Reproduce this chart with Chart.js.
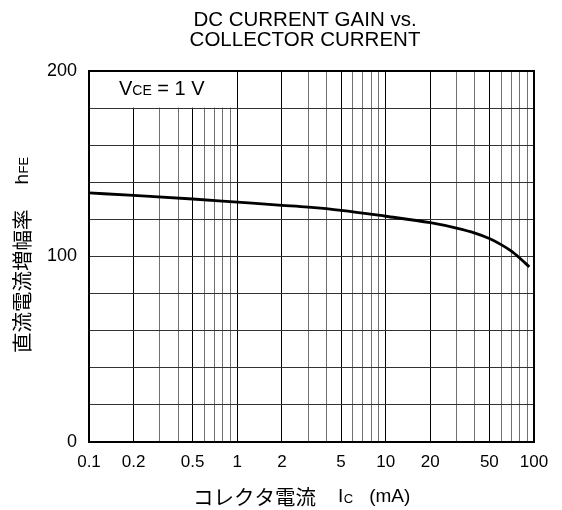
<!DOCTYPE html>
<html><head><meta charset="utf-8">
<script src="https://cdn.jsdelivr.net/npm/chart.js@4/dist/chart.umd.min.js"></script>
<style>html,body{margin:0;padding:0;background:#fff}#wrap{width:562px;height:510px}</style>
</head><body><div id="wrap"><canvas id="c" width="562" height="510"></canvas></div>
<script>
const currentMA = [0.1, 0.2, 0.5, 1, 2, 3, 5, 10, 20, 30, 40, 50, 60, 70, 80, 93];
const hFE       = [134.3, 132.9, 131.0, 129.3, 127.6, 126.6, 124.9, 121.7, 118.2, 115.3, 112.6, 109.7, 106.4, 103.0, 99.2, 94.4];
const xTickLabels = [0.1, 0.2, 0.5, 1, 2, 5, 10, 20, 50, 100];
const xGrid = [0.1,0.2,0.3,0.4,0.5,0.6,0.7,0.8,0.9,1,2,3,4,5,6,7,8,9,10,20,30,40,50,60,70,80,90,100];
const yLabels = [0, 100, 200];
const titleLines = ['DC CURRENT GAIN vs.', 'COLLECTOR CURRENT'];

const SANS = '"Liberation Sans", Arial, sans-serif';
const JP = '"Noto Sans CJK JP", sans-serif';

function drawRuns(ctx, runs, x, y) {
  let cx = x;
  for (const r of runs) {
    ctx.font = r[1];
    ctx.fillText(r[0], cx, y + (r[2] || 0));
    cx += ctx.measureText(r[0]).width + (r[3] || 0);
  }
  return cx - x;
}

const deco = {
  id: 'deco',
  beforeDatasetsDraw(chart) {
    const ctx = chart.ctx, xs = chart.scales.x, ys = chart.scales.y;
    const x0 = xs.getPixelForValue(0.1), x1 = xs.getPixelForValue(1);
    const y0 = ys.getPixelForValue(200), y1 = ys.getPixelForValue(180);
    ctx.save();
    ctx.fillStyle = '#fff';
    ctx.fillRect(x0 + 1, y0 + 1, x1 - x0 - 1.5, y1 - y0 - 1.5);
    ctx.fillStyle = '#000';
    ctx.textBaseline = 'middle';
    ctx.textAlign = 'left';
    drawRuns(ctx, [['V', '20px ' + SANS, 0], ['CE', '14px ' + SANS, 1.5], [' = 1 V', '20px ' + SANS, 0]], x0 + 30, (y0 + y1) / 2);
    ctx.restore();
  },
  afterDraw(chart) {
    const ctx = chart.ctx, a = chart.chartArea;
    ctx.save();
    ctx.strokeStyle = '#000';
    ctx.lineWidth = 2;
    ctx.strokeRect(a.left, a.top, a.right - a.left, a.bottom - a.top);
    ctx.fillStyle = '#000';
    ctx.textBaseline = 'middle';
    ctx.font = '20.5px ' + SANS;
    ctx.textAlign = 'center';
    ctx.fillText(titleLines[0], 305, 20);
    ctx.fillText(titleLines[1], 305, 40);
    ctx.textAlign = 'left';
    drawRuns(ctx, [['コレクタ電流', '20.5px ' + JP, 0, 22], ['I', '19px ' + SANS, 0, 0.5], ['C', '13px ' + SANS, 2, 16], ['(mA)', '19px ' + SANS, 0]], 193, 497);
    ctx.translate(22.5, 0);
    ctx.rotate(-Math.PI / 2);
    drawRuns(ctx, [['直流電流増幅率', '20.5px ' + JP, 0, 25], ['h', '19px ' + SANS, 0, 0.5], ['FE', '13px ' + SANS, 2]], -353, 0);
    ctx.restore();
  }
};

new Chart(document.getElementById('c'), {
  type: 'scatter',
  data: {
    datasets: [{
      data: currentMA.map((v, i) => ({ x: v, y: hFE[i] })),
      showLine: true,
      borderColor: '#000',
      borderWidth: 2.8,
      pointRadius: 0,
      cubicInterpolationMode: 'monotone',
      fill: false
    }]
  },
  options: {
    responsive: false,
    animation: false,
    devicePixelRatio: 1,
    layout: { padding: { left: 0, right: 28, top: 71, bottom: 0 } },
    plugins: { legend: { display: false }, tooltip: { enabled: false }, title: { display: false } },
    scales: {
      x: {
        type: 'logarithmic',
        min: 0.1, max: 100,
        afterBuildTicks(s) { s.ticks = xGrid.map(v => ({ value: v })); },
        afterFit(s) { s.height = 68; },
        ticks: {
          autoSkip: false, maxRotation: 0, minRotation: 0, padding: 10,
          color: '#000', font: { family: SANS, size: 17 },
          callback: (v) => xTickLabels.includes(v) ? String(v) : ''
        },
        grid: {
          drawTicks: false,
          color: (c) => {
            const v = c.tick ? c.tick.value : 0;
            const m = Math.round(v / Math.pow(10, Math.floor(Math.log10(v) + 1e-9)));
            return (m === 1 || m === 2 || m === 5) ? '#000' : '#707070';
          },
          lineWidth: 1
        },
        border: { display: false }
      },
      y: {
        min: 0, max: 200,
        afterFit(s) { s.width = 89; },
        ticks: {
          stepSize: 20, padding: 12, color: '#000', font: { family: SANS, size: 18 },
          callback: (v) => yLabels.includes(v) ? String(v) : ''
        },
        grid: { drawTicks: false, color: '#333', lineWidth: 1 },
        border: { display: false }
      }
    }
  },
  plugins: [deco]
});
</script>
</body></html>
